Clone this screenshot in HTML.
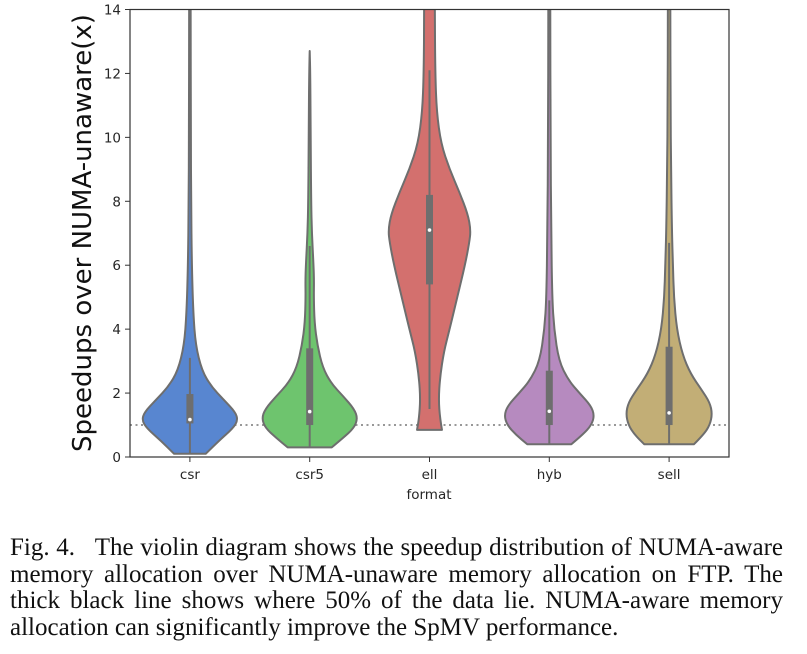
<!DOCTYPE html>
<html><head><meta charset="utf-8"><style>
body{margin:0;background:#fff;width:807px;height:654px;overflow:hidden;position:relative}
svg{display:block;position:absolute;left:0;top:0}
.tk{font-family:"DejaVu Sans",sans-serif;font-size:13.5px;fill:#262626}
#caption{position:absolute;left:10px;top:535px;width:773px;font-family:"Liberation Serif",serif;font-size:25px;line-height:26.7px;color:#111}
#caption div{text-align:justify;text-align-last:justify;height:26.7px;white-space:nowrap}
#caption div.last{text-align:left;text-align-last:left}
</style></head><body>
<svg id="chart" width="807" height="654" viewBox="0 0 807 654" xmlns="http://www.w3.org/2000/svg">
<defs><clipPath id="plotclip"><rect x="130" y="9.5" width="599" height="447.5"/></clipPath></defs>
<g id="violins" clip-path="url(#plotclip)"></g>
<g id="axes"></g>
<text class="tk" x="429" y="499" text-anchor="middle">format</text>
<text x="0" y="0" transform="translate(91,233) rotate(-90)" text-anchor="middle" style="font-family:'DejaVu Sans',sans-serif;font-size:26px;fill:#111">Speedups over NUMA-unaware(x)</text>
</svg>
<div id="caption">
<div style="white-space:normal">Fig. 4.&nbsp;&nbsp; The violin diagram shows the speedup distribution of NUMA-aware</div>
<div style="white-space:normal">memory allocation over NUMA-unaware memory allocation on FTP. The</div>
<div style="white-space:normal">thick black line shows where 50% of the data lie. NUMA-aware memory</div>
<div class="last">allocation can significantly improve the SpMV performance.</div>
</div>
<script>
const categories = ["csr","csr5","ell","hyb","sell"];
const colors = ["#5886d0","#6ec46e","#d3706e","#b68abf","#c2ae76"];
const yTicks = [0,2,4,6,8,10,12,14];
const refLine = 1;
// density profiles: [value, relative half-width]
const csrProfile = [[0.1,0.33],[0.5,0.6],[0.9,0.9],[1.15,1.0],[1.4,0.95],[1.8,0.7],[2.2,0.45],[2.7,0.25],[3.5,0.12],[4.5,0.07],[6,0.04],[8,0.025],[10,0.02],[14,0.015],[15,0.015]];
const csr5Profile = [[0.3,0.46],[0.6,0.7],[0.9,0.92],[1.2,1.0],[1.5,0.93],[1.9,0.7],[2.3,0.45],[2.8,0.27],[3.5,0.16],[4.2,0.1],[5,0.085],[5.5,0.09],[6,0.08],[7,0.045],[8,0.03],[10,0.02],[12,0.012],[12.7,0]];
const ellProfile = [[0.85,0.26],[1.2,0.22],[1.8,0.19],[2.5,0.22],[3.3,0.3],[4.0,0.42],[5,0.58],[6,0.74],[6.7,0.83],[7.1,0.86],[7.6,0.8],[8.3,0.62],[9,0.42],[9.8,0.24],[10.8,0.15],[12,0.12],[14,0.11],[15,0.11]];
const hybProfile = [[0.4,0.46],[0.7,0.7],[1.0,0.88],[1.3,0.94],[1.6,0.87],[2.0,0.63],[2.4,0.4],[3,0.2],[4,0.1],[5,0.06],[7,0.04],[10,0.025],[14,0.02],[15,0.02]];
const sellProfile = [[0.4,0.52],[0.7,0.72],[1.0,0.85],[1.35,0.9],[1.7,0.85],[2.1,0.68],[2.6,0.45],[3.2,0.28],[4,0.16],[5,0.1],[6,0.08],[7,0.06],[9,0.04],[11,0.03],[14,0.025],[15,0.025]];
const whiskerLow = [0.1,0.3,1.5,0.4,0.4];
const q1 = [1.05,1.0,5.4,1.0,1.0];
const medians = [1.17,1.42,7.1,1.43,1.38];
const q3 = [1.97,3.4,8.2,2.7,3.45];
const whiskerHigh = [3.1,6.6,12.1,4.9,6.7];
const profiles = [csrProfile,csr5Profile,ellProfile,hybProfile,sellProfile];

const L=130,R=729,T=9.5,B=457,ymax=14;
const ys = v => B - v*(B-T)/ymax;
const band = (R-L)/categories.length;
const xs = i => L + band*(i+0.5);
const halfW = band*0.4;
const NS="http://www.w3.org/2000/svg";
function mk(tag,attrs,parent){const e=document.createElementNS(NS,tag);for(const k in attrs)e.setAttribute(k,attrs[k]);parent.appendChild(e);return e;}
const vg=document.getElementById('violins'), ag=document.getElementById('axes');

const rl=mk('line',{x1:L,x2:R,y1:ys(refLine),y2:ys(refLine),stroke:'#8a8a8a','stroke-width':1.8,'stroke-dasharray':'2,3.5'},vg);



function smooth(pts){let d='M'+pts[0][0]+','+pts[0][1];for(let i=1;i<pts.length-1;i++){const mx=(pts[i][0]+pts[i+1][0])/2,my=(pts[i][1]+pts[i+1][1])/2;d+=' Q'+pts[i][0]+','+pts[i][1]+' '+mx+','+my;}d+=' L'+pts[pts.length-1][0]+','+pts[pts.length-1][1];return d;}

categories.forEach((c,i)=>{
  const cx=xs(i), p=profiles[i];
  const right=p.map(([v,w])=>[cx+w*halfW,ys(v)]);
  const left=p.map(([v,w])=>[cx-w*halfW,ys(v)]).reverse();
  const d=smooth(right)+' L'+left[0][0]+','+left[0][1]+' '+smooth(left).slice(1).replace(/^[^Q]*/,'')+' Z';
  const body=mk('path',{d:d,fill:colors[i],stroke:'#6e6e6e','stroke-width':2,'stroke-linejoin':'round'},vg);
  
  
  const wh=mk('line',{x1:cx,x2:cx,y1:ys(whiskerLow[i]),y2:ys(whiskerHigh[i]),stroke:'#6e6e6e','stroke-width':2},vg);
  
  
  const bx=mk('rect',{x:cx-3.5,width:7,y:ys(q3[i]),height:ys(q1[i])-ys(q3[i]),fill:'#6e6e6e'},vg);
  
  
  const md=mk('circle',{cx:cx,cy:ys(medians[i]),r:1.8,fill:'#fff'},vg);
  
  
  const tk=mk('line',{x1:cx,x2:cx,y1:B,y2:B+5,stroke:'#333','stroke-width':1},ag);
  
  
  const tl=mk('text',{x:cx,y:B+22,'text-anchor':'middle',class:'tk'},ag);
  tl.textContent=c;
  
  
});
yTicks.forEach(v=>{
  const tk=mk('line',{x1:L-5,x2:L,y1:ys(v),y2:ys(v),stroke:'#333','stroke-width':1},ag);
  
  
  const tl=mk('text',{x:L-9,y:ys(v)+5,'text-anchor':'end',class:'tk'},ag);
  tl.textContent=v;
  
  
});
const fr=mk('rect',{x:L,y:T,width:R-L,height:B-T,fill:'none',stroke:'#333','stroke-width':1.2},ag);


</script>
</body></html>
